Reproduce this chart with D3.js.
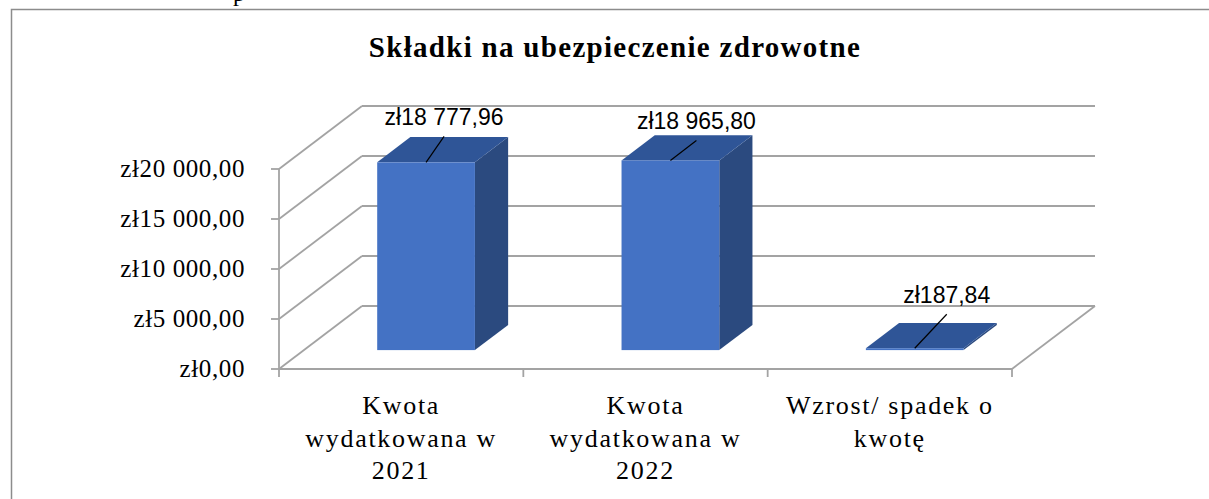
<!DOCTYPE html>
<html>
<head>
<meta charset="utf-8">
<script src="https://cdn.jsdelivr.net/npm/d3@7.9.0/dist/d3.min.js"></script>
<style>
  body { margin: 0; background: #fff; }
  svg { display: block; }
</style>
</head>
<body>
<svg id="chart" width="1209" height="499"></svg>
<script>
// dane wykresu
const title = 'Składki na ubezpieczenie zdrowotne';
const categories = ['Kwota wydatkowana w 2021', 'Kwota wydatkowana w 2022', 'Wzrost/ spadek o kwotę'];
const categoryLines = [['Kwota', 'wydatkowana w', '2021'], ['Kwota', 'wydatkowana w', '2022'], ['Wzrost/ spadek o', 'kwotę']];
const values = [18777.96, 18965.80, 187.84];
const yTicks = [0, 5000, 10000, 15000, 20000];

// przesunięcia etykiet danych (przeciągnięte ręcznie w Excelu)
const labelNudge = [[18, -26], [26, -20], [32, -34]];

const pl = d3.formatLocale({ decimal: ',', thousands: ' ', grouping: [3], currency: ['zł', ''] });
const money = pl.format('$,.2f');

const svg = d3.select('#chart');

// ramka wykresu
svg.append('rect')
  .attr('x', 11.5).attr('y', 9.5)
  .attr('width', 1210).attr('height', 500)
  .attr('fill', 'none').attr('stroke', '#8c8c8c').attr('stroke-width', 1.5);

// fragment tekstu dokumentu nad wykresem
svg.append('text').attr('x', 233).attr('y', 1)
  .attr('font-family', 'Liberation Serif').attr('font-size', 24).text('p');

svg.append('text')
  .attr('x', 615).attr('y', 57)
  .attr('text-anchor', 'middle')
  .attr('font-family', 'Liberation Serif, serif')
  .attr('font-weight', 'bold')
  .attr('font-size', 29)
  .attr('letter-spacing', 1.3)
  .text(title);

// skale
const x = d3.scaleBand().domain(d3.range(categories.length)).range([279, 1012]);
const y = d3.scaleLinear().domain([0, 20000]).range([369, 169]);
const DX = 83, DY = -63;          // głębokość 3D
const front = 0.3, depth = 0.4;   // położenie słupka w głębi
const bw = x.bandwidth() * 0.4;
const [x0, x1] = x.range();

const grid = svg.append('g').attr('stroke', '#a3a3a3').attr('stroke-width', 1.8).attr('fill', 'none');

// tylna ściana
grid.selectAll('.back').data(yTicks).join('line')
  .attr('x1', x0 + DX).attr('x2', x1 + DX)
  .attr('y1', d => y(d) + DY).attr('y2', d => y(d) + DY);

// lewa ściana
grid.selectAll('.side').data(yTicks).join('line')
  .attr('x1', x0).attr('x2', x0 + DX)
  .attr('y1', d => y(d)).attr('y2', d => y(d) + DY);

// podłoga
grid.append('line').attr('x1', x0).attr('x2', x1).attr('y1', y(0)).attr('y2', y(0));
grid.append('line').attr('x1', x1).attr('x2', x1 + DX).attr('y1', y(0)).attr('y2', y(0) + DY);

// oś Y
grid.append('line').attr('x1', x0).attr('x2', x0).attr('y1', y(0)).attr('y2', y(20000));
grid.selectAll('.ytick').data(yTicks).join('line')
  .attr('x1', x0 - 8).attr('x2', x0)
  .attr('y1', d => y(d)).attr('y2', d => y(d));

// oś X
grid.selectAll('.xtick').data(d3.range(categories.length + 1)).join('line')
  .attr('x1', d => x0 + d * x.step()).attr('x2', d => x0 + d * x.step())
  .attr('y1', y(0)).attr('y2', y(0) + 8);

svg.append('g').selectAll('text').data(yTicks).join('text')
  .attr('x', 245).attr('y', d => y(d) + 8)
  .attr('text-anchor', 'end')
  .attr('font-family', 'Liberation Serif, serif')
  .attr('font-size', 25)
  .attr('letter-spacing', 0.6)
  .text(d => money(d));

const xl = svg.append('g').selectAll('text').data(categoryLines).join('text')
  .attr('text-anchor', 'middle')
  .attr('font-family', 'Liberation Serif, serif')
  .attr('font-size', 26)
  .attr('letter-spacing', 1.7);
xl.selectAll('tspan').data((d, i) => d.map(t => ({ t, i }))).join('tspan')
  .attr('x', d => x(d.i) + x.bandwidth() / 2)
  .attr('y', (d, j) => 414 + j * 32.5)
  .text(d => d.t);

// słupki
const fdx = DX * front, fdy = DY * front, bdx = DX * depth, bdy = DY * depth;
const bars = svg.append('g').selectAll('g').data(values).join('g');
bars.each(function (v, i) {
  const g = d3.select(this);
  const l = x(i) + x.bandwidth() / 2 + fdx - bw / 2, r = l + bw;
  const b = y(0) + fdy, t = y(v) + fdy;
  g.append('path').attr('fill', '#2b4a7f')
    .attr('d', `M${r},${t}L${r + bdx},${t + bdy}L${r + bdx},${b + bdy}L${r},${b}Z`);
  g.append('path').attr('fill', '#2f5597')
    .attr('d', `M${l},${t}L${l + bdx},${t + bdy}L${r + bdx},${t + bdy}L${r},${t}Z`);
  g.append('rect').attr('fill', '#4472c4')
    .attr('x', l).attr('y', t).attr('width', bw).attr('height', Math.max(b - t, 0.8));
});

// etykiety danych z liniami odniesienia
const lab = svg.append('g').selectAll('g').data(values).join('g');
lab.each(function (v, i) {
  const g = d3.select(this);
  const sx = x(i) + x.bandwidth() / 2 + fdx, sy = y(v) + fdy;
  const lx = sx + labelNudge[i][0], ly = sy + labelNudge[i][1];
  g.append('line').attr('x1', sx).attr('y1', sy).attr('x2', lx).attr('y2', ly)
    .attr('stroke', '#000').attr('stroke-width', 1.2);
  g.append('text').attr('x', lx).attr('y', ly - 11)
    .attr('text-anchor', 'middle')
    .attr('font-family', 'Liberation Sans, Arial, sans-serif')
    .attr('font-size', 23)
    .text(money(v));
});
</script>
</body>
</html>
